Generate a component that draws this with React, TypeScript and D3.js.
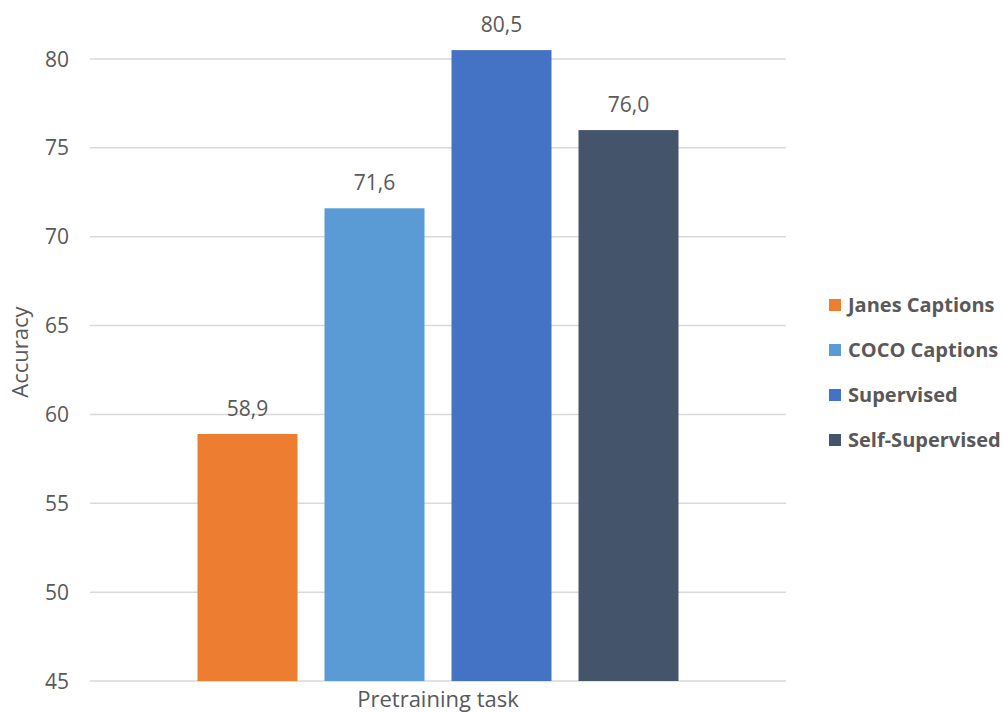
import React from "react";
import * as d3 from "d3";

const categories = ["Pretraining task"];
const seriesNames = ["Janes Captions", "COCO Captions", "Supervised", "Self-Supervised"];
const seriesValues = [58.9, 71.6, 80.5, 76.0];
const seriesColors = ["#ED7D31", "#5B9BD5", "#4472C4", "#44546A"];
const yTicks = [45, 50, 55, 60, 65, 70, 75, 80];
const yLabel = "Accuracy";

const W = 1003;
const H = 713;
const plot = { left: 90, right: 786, top: 59, bottom: 681 };
const font = "'Open Sans', sans-serif";
const textColor = "#595959";

export default function App() {
  const y = d3.scaleLinear().domain([45, 80]).range([plot.bottom, plot.top]);
  const x0 = d3
    .scaleBand<string>()
    .domain(categories)
    .range([plot.left, plot.right])
    .paddingInner(0)
    .paddingOuter(0.2235);
  const x1 = d3
    .scaleBand<string>()
    .domain(seriesNames)
    .range([0, x0.bandwidth()])
    .paddingInner(0.2126)
    .paddingOuter(0);
  const fmt = (v: number) => v.toFixed(1).replace(".", ",");

  return (
    <svg
      width={W}
      height={H}
      style={{ position: "absolute", left: 0, top: 0, background: "#fff" }}
    >
      {yTicks.map((t) => (
        <g key={t}>
          <line
            x1={plot.left}
            x2={plot.right}
            y1={y(t)}
            y2={y(t)}
            stroke="#d9d9d9"
            strokeWidth={1.5}
          />
          <text
            x={69}
            y={y(t)}
            dy="0.36em"
            textAnchor="end"
            fontFamily={font}
            fontSize={21}
            fill={textColor}
          >
            {t}
          </text>
        </g>
      ))}
      {categories.map((c) => (
        <g key={c} transform={`translate(${x0(c)},0)`}>
          {seriesNames.map((s, i) => (
            <g key={s}>
              <rect
                x={x1(s)}
                y={y(seriesValues[i])}
                width={x1.bandwidth()}
                height={plot.bottom - y(seriesValues[i])}
                fill={seriesColors[i]}
              />
              <text
                x={(x1(s) ?? 0) + x1.bandwidth() / 2}
                y={y(seriesValues[i]) - 18}
                textAnchor="middle"
                fontFamily={font}
                fontSize={21}
                fill={textColor}
              >
                {fmt(seriesValues[i])}
              </text>
            </g>
          ))}
          <text
            x={x0.bandwidth() / 2}
            y={707}
            textAnchor="middle"
            fontFamily={font}
            fontSize={22}
            fill={textColor}
          >
            {c}
          </text>
        </g>
      ))}
      <text
        transform={`translate(28,352) rotate(-90)`}
        textAnchor="middle"
        fontFamily={font}
        fontSize={22}
        fill={textColor}
      >
        {yLabel}
      </text>
      {seriesNames.map((s, i) => (
        <g key={s} transform={`translate(829,${305 + i * 45})`}>
          <rect x={0} y={-6} width={12} height={12} fill={seriesColors[i]} />
          <text
            x={19}
            y={0}
            dy="0.36em"
            fontFamily={font}
            fontSize={20}
            fontWeight="bold"
            fill={textColor}
          >
            {s}
          </text>
        </g>
      ))}
    </svg>
  );
}
